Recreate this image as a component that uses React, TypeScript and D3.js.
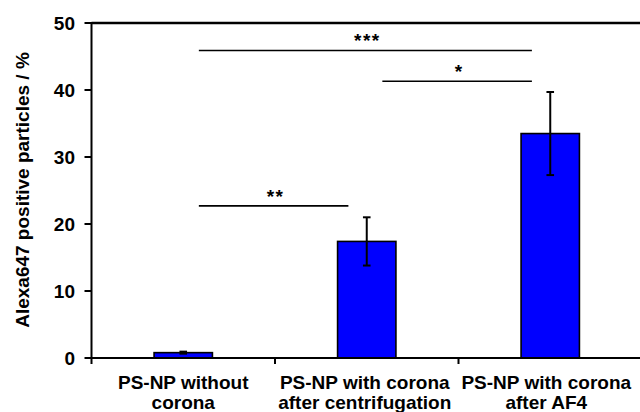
import React from "react";
import * as d3 from "d3";

// Measured percentages of Alexa647-positive particles per sample
const categories = ["PS-NP without|corona", "PS-NP with corona|after centrifugation", "PS-NP with corona|after AF4"];
const means = [0.8, 17.4, 33.5];
const errors = [0.15, 3.6, 6.2];
const yTicks = [0, 10, 20, 30, 40, 50];

// Significance brackets between samples
const sigFrom = [0, 1, 0];
const sigTo = [2, 2, 1];
const sigLevel = [45.9, 41.3, 22.7];
const sigLabel = ["***", "*", "**"];

const W = 640;
const H = 412;
const FONT = "'Liberation Sans', Arial, sans-serif";

export default function App() {
  const left = 91.5;
  const right = 642;
  const top = 23;
  const bottom = 358;

  const x = d3.scaleBand<number>().domain(d3.range(categories.length)).range([left, right]).padding(0);
  const y = d3.scaleLinear().domain([0, 50]).range([bottom, top]);
  const bw = x.bandwidth();
  const barW = bw * 0.318;
  const cx = (i: number) => (x(i) as number) + bw / 2;

  return (
    <svg width={W} height={H} style={{ position: "absolute", left: 0, top: 0, background: "#fff" }} fontFamily={FONT} fontWeight="bold">
      {/* bars */}
      {means.map((m, i) => (
        <rect key={"b" + i} x={cx(i) - barW / 2} y={y(m)} width={barW} height={y(0) - y(m)} fill="#0000ff" stroke="#000" strokeWidth={1.6} />
      ))}
      {/* error bars */}
      {means.map((m, i) => {
        const c = cx(i);
        const hi = y(m + errors[i]);
        const lo = y(m - errors[i]);
        return (
          <g key={"e" + i} stroke="#000" strokeWidth={2}>
            <line x1={c} x2={c} y1={hi} y2={lo} />
            <line x1={c - 3.8} x2={c + 3.8} y1={hi} y2={hi} />
            <line x1={c - 3.8} x2={c + 3.8} y1={lo} y2={lo} />
          </g>
        );
      })}
      {/* significance brackets */}
      {sigLevel.map((lv, k) => {
        const x1 = cx(sigFrom[k]) + bw * 0.085;
        const x2 = cx(sigTo[k]) - bw * 0.1;
        const yy = y(lv);
        return (
          <g key={"s" + k}>
            <line x1={x1} x2={x2} y1={yy} y2={yy} stroke="#000" strokeWidth={1.6} />
            <text x={(x1 + x2) / 2 + 2} y={yy - 3} textAnchor="middle" fontSize={19} letterSpacing={1.5}>
              {sigLabel[k]}
            </text>
          </g>
        );
      })}
      {/* frame top */}
      <line x1={left} x2={W} y1={top} y2={top} stroke="#000" strokeWidth={2.5} />
      {/* y axis */}
      <line x1={left} x2={left} y1={top - 1} y2={bottom} stroke="#000" strokeWidth={2} />
      {yTicks.map((t) => (
        <g key={"yt" + t}>
          <line x1={left - 7} x2={left} y1={y(t)} y2={y(t)} stroke="#000" strokeWidth={2} />
          <text x={75} y={y(t)} dy="0.36em" textAnchor="end" fontSize={19}>
            {t}
          </text>
        </g>
      ))}
      {/* x axis */}
      <line x1={left - 6} x2={W} y1={bottom} y2={bottom} stroke="#000" strokeWidth={2} />
      {d3.range(categories.length + 1).map((i) => {
        const xx = i < categories.length ? (x(i) as number) : right;
        return <line key={"xt" + i} x1={xx} x2={xx} y1={bottom} y2={bottom + 6} stroke="#000" strokeWidth={2} />;
      })}
      {categories.map((c, i) => (
        <text key={"xl" + i} x={cx(i) - i * 2} y={389} textAnchor="middle" fontSize={19}>
          {c.split("|").map((ln, j) => (
            <tspan key={j} x={cx(i) - i * 2} dy={j === 0 ? 0 : 19.5}>
              {ln}
            </tspan>
          ))}
        </text>
      ))}
      {/* y axis title */}
      <text transform={`translate(29,190) rotate(-90)`} textAnchor="middle" fontSize={19}>
        Alexa647 positive particles / %
      </text>
    </svg>
  );
}
